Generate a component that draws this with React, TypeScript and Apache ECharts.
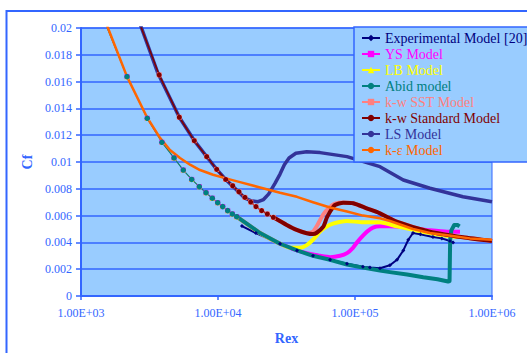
import React, { useEffect, useRef } from "react";
import * as echarts from "echarts";

type P = [number, number];

const FONT = "Liberation Serif";
const BLUE = "#3366FF";

const xTickLabels = ["1.00E+03", "1.00E+04", "1.00E+05", "1.00E+06"];

const seriesNames = [
  "Experimental Model [20]",
  "YS Model",
  "LB Model",
  "Abid model",
  "k-w SST Model",
  "k-w Standard Model",
  "LS Model",
  "k-ε Model",
];
const seriesColors = ["#000080", "#FF00FF", "#FFFF00", "#008080", "#FF8080", "#800000", "#333399", "#FF6600"];

// laminar branch shared by YS, LB and Abid (with markers)
const laminarEarly: P[] = [
  [1500, 0.0204], [2167, 0.01637], [3045, 0.01326], [3896, 0.01147], [4776, 0.0103],
  [5581, 0.0094], [6429, 0.0087], [7304, 0.00816], [8174, 0.00771], [9087, 0.0073],
  [9950, 0.00696], [10820, 0.00667], [11770, 0.00637], [12720, 0.00612], [13690, 0.00592],
];

const abidLate: P[] = [
  [13690, 0.00592], [16200, 0.0054], [20270, 0.0047], [28370, 0.0039], [37720, 0.0034],
  [49360, 0.003], [65730, 0.0027], [87420, 0.00235], [114300, 0.00212], [152200, 0.0019],
  [180000, 0.00178], [240000, 0.0016], [315000, 0.0014], [400000, 0.00125], [477600, 0.00108],
  [490000, 0.00112], [495000, 0.0042], [505000, 0.0049], [530000, 0.0053], [560000, 0.0053],
  [580000, 0.0052],
];

const ysLate: P[] = [
  [13690, 0.00592], [20270, 0.0047], [28370, 0.0039], [33560, 0.0036], [37720, 0.0034],
  [44410, 0.0032], [49360, 0.0031], [55570, 0.003], [65730, 0.0029], [77780, 0.003],
  [87420, 0.0032], [96650, 0.0036], [103500, 0.004], [114300, 0.0045], [122400, 0.0048],
  [135200, 0.0051], [152200, 0.0052], [180000, 0.0052], [240000, 0.0051], [352500, 0.0049],
  [470000, 0.0048], [583800, 0.0048],
];

const lbLate: P[] = [
  [13690, 0.00592], [20270, 0.0047], [28370, 0.0039], [33560, 0.0036], [39700, 0.0036],
  [44410, 0.0038], [49360, 0.0042], [55570, 0.0048], [60370, 0.0051], [69070, 0.0054],
  [87420, 0.0056], [114300, 0.0055], [152200, 0.0055], [202600, 0.0052], [352500, 0.0047],
  [564500, 0.0044], [583800, 0.0044],
];

const expData: P[] = [
  [14960, 0.00522], [18900, 0.0047], [28370, 0.0039], [37720, 0.0034], [49360, 0.003],
  [65730, 0.0027], [87420, 0.0024], [114300, 0.00218], [128600, 0.00212], [152200, 0.00207],
  [179800, 0.0023], [202600, 0.0027], [225200, 0.0034], [245000, 0.0042], [265100, 0.0047],
  [300000, 0.0046], [370700, 0.0044], [430000, 0.0043], [493000, 0.0041], [520000, 0.004],
];

const stdEarly: P[] = [
  [2600, 0.0207], [3720, 0.0165], [5218, 0.01334], [6710, 0.01159], [8270, 0.0104],
  [9784, 0.00945], [11380, 0.0087], [12800, 0.00823], [14220, 0.00778], [15730, 0.00736],
  [17340, 0.00701], [18930, 0.00667], [20830, 0.00637], [22910, 0.00612], [25350, 0.00587],
];

const stdLate: P[] = [
  [25350, 0.00587], [31730, 0.0053], [37530, 0.00493], [44410, 0.00468], [49360, 0.00462],
  [52540, 0.00472], [58700, 0.00517], [62000, 0.0058], [65730, 0.00629], [71450, 0.00679],
  [82140, 0.00696], [97190, 0.00692], [121700, 0.00654], [152200, 0.00617], [201400, 0.00555],
  [352500, 0.0048], [614000, 0.00438], [1000000, 0.0041],
];

const sstLate: P[] = [
  [25350, 0.00587], [31730, 0.0053], [37530, 0.00493], [44410, 0.0047], [49360, 0.0048],
  [52540, 0.0052], [58700, 0.0061], [65730, 0.00665], [71450, 0.0069], [82140, 0.00698],
  [97190, 0.00692], [121700, 0.00654], [152200, 0.00617], [201400, 0.00555], [352500, 0.0048],
  [614000, 0.00438], [1000000, 0.0041],
];

const lsData: P[] = [
  [2550, 0.021], [3650, 0.0166], [5218, 0.01334], [6710, 0.0116], [8270, 0.0104],
  [9784, 0.00945], [11380, 0.0087], [12800, 0.0082], [14220, 0.00775], [15730, 0.0073],
  [17500, 0.0071], [19600, 0.00704], [21500, 0.0072], [23400, 0.0076], [26060, 0.0084],
  [28370, 0.0091], [30500, 0.0098], [33000, 0.0103], [37000, 0.01065], [44410, 0.01077],
  [55570, 0.0107], [87420, 0.0104], [152200, 0.00965], [225200, 0.00866], [352500, 0.00804],
  [614000, 0.00741], [1000000, 0.00704],
];

const keData: P[] = [
  [1500, 0.0207], [1574, 0.02], [2167, 0.01637], [3045, 0.0133], [3775, 0.0118],
  [4460, 0.0109], [5280, 0.0103], [6251, 0.0098], [7390, 0.0094], [9200, 0.00905],
  [11250, 0.0088], [14480, 0.0085], [20270, 0.0081], [28370, 0.0077], [37700, 0.0074],
  [49360, 0.007], [65730, 0.0066], [87420, 0.0063], [114300, 0.006], [152200, 0.0058],
  [180000, 0.0056], [265000, 0.005], [352500, 0.0047], [500000, 0.0045], [690000, 0.0043],
  [1000000, 0.0042],
];

function line(
  idx: number,
  data: P[],
  width: number,
  symbol: string,
  symbolSize: number,
  smooth = false
) {
  const color = seriesColors[idx];
  return {
    type: "line",
    name: seriesNames[idx],
    data,
    showSymbol: symbol !== "none",
    symbol,
    symbolSize,
    smooth: smooth ? 0.2 : false,
    lineStyle: { color, width, join: "round" },
    itemStyle: { color },
    clip: true,
    emphasis: { disabled: true },
  };
}

export default function App() {
  const ref = useRef<HTMLDivElement>(null);
  useEffect(() => {
    if (!ref.current) return;
    const chart = echarts.init(ref.current, undefined, { renderer: "svg" });
    const option: any = {
      animation: false,
      backgroundColor: "#ffffff",
      textStyle: { fontFamily: FONT },
      grid: {
        left: 81,
        right: 35,
        top: 28,
        bottom: 57,
        show: true,
        backgroundColor: "#99CCFF",
        borderColor: BLUE,
        borderWidth: 1,
      },
      xAxis: {
        type: "log",
        logBase: 10,
        min: 1000,
        max: 1000000,
        name: "Rex",
        nameLocation: "middle",
        nameGap: 35,
        nameTextStyle: { color: BLUE, fontFamily: FONT, fontSize: 14, fontWeight: "bold" },
        axisLine: { show: true, lineStyle: { color: BLUE, width: 2 } },
        axisTick: { show: true, length: 4, lineStyle: { color: BLUE, width: 1.5 } },
        minorTick: { show: false },
        splitLine: { show: false },
        axisLabel: {
          color: BLUE,
          fontFamily: FONT,
          fontSize: 12,
          margin: 11,
          formatter: (v: number) => xTickLabels[Math.round(Math.log10(v)) - 3] ?? "",
        },
      },
      yAxis: {
        type: "value",
        min: 0,
        max: 0.02,
        interval: 0.002,
        name: "Cf",
        nameLocation: "middle",
        nameGap: 47,
        nameRotate: 90,
        nameTextStyle: { color: BLUE, fontFamily: FONT, fontSize: 14, fontWeight: "bold" },
        axisLine: { show: true, lineStyle: { color: BLUE, width: 2 } },
        axisTick: { show: true, length: 5, lineStyle: { color: BLUE, width: 1.5 } },
        splitLine: { show: true, lineStyle: { color: BLUE, width: 1.5 } },
        axisLabel: {
          color: BLUE,
          fontFamily: FONT,
          fontSize: 12,
          margin: 9,
          formatter: (v: number) => String(parseFloat(v.toFixed(4))),
        },
      },
      legend: {
        orient: "vertical",
        left: 361,
        top: 31,
        padding: 0,
        itemWidth: 18,
        itemHeight: 8,
        itemGap: 2,
        z: 10,
        selectedMode: false,
        textStyle: { fontFamily: FONT, fontSize: 14 },
        data: seriesNames.map((n, i) => ({ name: n, textStyle: { color: seriesColors[i] } })),
      },
      graphic: [
        {
          type: "rect",
          z: 1,
          shape: { x: 6.5, y: 11, width: 600, height: 400 },
          style: { fill: "none", stroke: BLUE, lineWidth: 2 },
          silent: true,
        },
        {
          type: "rect",
          z: 9,
          shape: { x: 354, y: 27, width: 220, height: 135 },
          style: { fill: "#99CCFF", stroke: BLUE, lineWidth: 1.5 },
          silent: true,
        },
      ],
      series: [
        line(0, expData, 2, "diamond", 4),
        line(1, laminarEarly, 1, "rect", 5),
        line(1, ysLate, 4, "none", 0, true),
        line(2, laminarEarly, 1, "triangle", 5),
        line(2, lbLate, 4, "none", 0, true),
        line(3, laminarEarly, 1.2, "circle", 5.5),
        line(3, abidLate, 4, "none", 0),
        line(4, stdEarly, 1.2, "rect", 5),
        line(4, sstLate, 4, "none", 0, true),
        line(6, lsData, 3.5, "none", 0),
        line(5, stdEarly, 1.5, "circle", 5),
        line(5, stdLate, 4, "none", 0, true),
        line(7, keData, 2.5, "none", 0),
      ],
    };
    chart.setOption(option);
    return () => chart.dispose();
  }, []);
  return (
    <div
      ref={ref}
      style={{ position: "absolute", left: 0, top: 0, width: 527, height: 353 }}
    />
  );
}
